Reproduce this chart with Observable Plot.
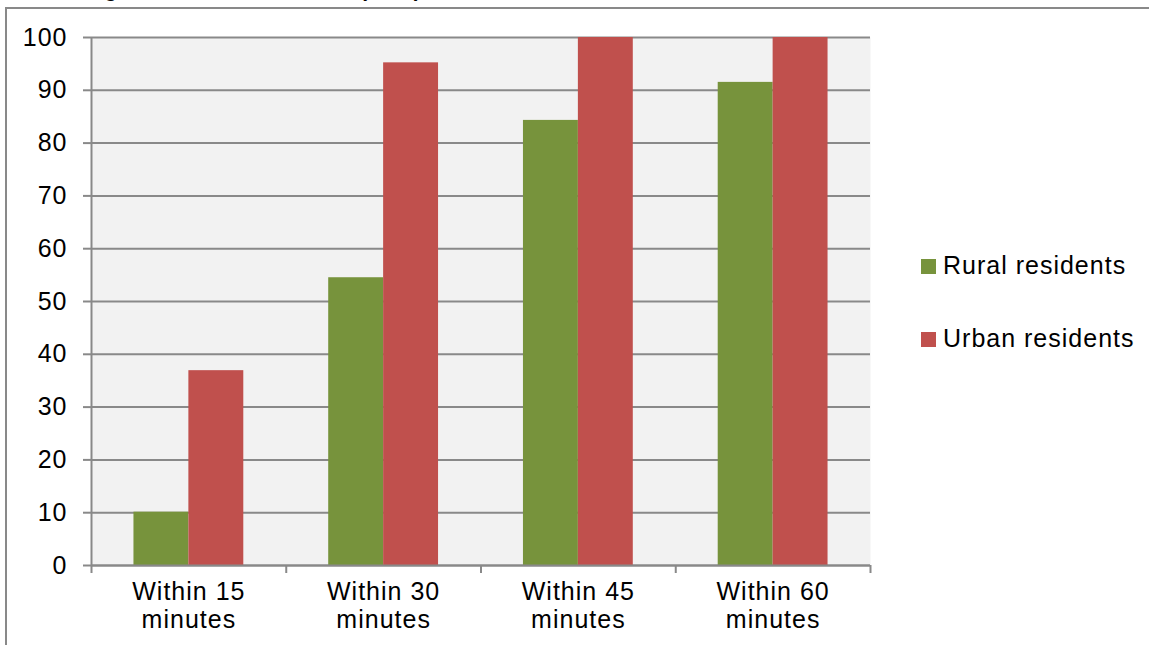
<!DOCTYPE html>
<html>
<head>
<meta charset="utf-8">
<script src="https://cdn.jsdelivr.net/npm/d3@7"></script>
<script src="https://cdn.jsdelivr.net/npm/@observablehq/plot@0.6"></script>
<style>
  html, body { margin: 0; padding: 0; background: #fff; overflow: hidden; }
  body { width: 1149px; height: 645px; position: relative; font-family: "Liberation Sans", Arial, sans-serif; }
  #frame { position: absolute; left: 5px; top: 7px; width: 1300px; height: 800px; border-left: 2px solid #898989; border-top: 2px solid #898989; }
  #title { position: absolute; left: 45px; top: -21px; font-size: 21px; line-height: 21px; font-weight: bold; white-space: nowrap; color: #000; }
  #chart { position: absolute; left: 0; top: 0; }
  #legend { position: absolute; left: 921px; top: 0; }
  .item { position: absolute; left: 0; white-space: nowrap; font-size: 25px; letter-spacing: 1px; line-height: 25px; color: #000; }
  .sw { display: inline-block; width: 15px; height: 15px; margin-right: 7px; vertical-align: 0px; }
</style>
</head>
<body>
<div id="frame"></div>
<div id="title">Driving time to a trauma center (2010)</div>
<div id="chart"></div>
<div id="legend"></div>
<script>
const categories = ["Within 15\nminutes", "Within 30\nminutes", "Within 45\nminutes", "Within 60\nminutes"];
const seriesNames = ["Rural residents", "Urban residents"];
const seriesColors = ["#77933c", "#c0504d"];
const rural = [10.1, 54.5, 84.3, 91.5];
const urban = [36.9, 95.2, 100, 100];
const yTicks = [0, 10, 20, 30, 40, 50, 60, 70, 80, 90, 100];

const rows = [];
categories.forEach((c, i) => {
  rows.push({i, series: seriesNames[0], s: 0, value: rural[i]});
  rows.push({i, series: seriesNames[1], s: 1, value: urban[i]});
});

const groupPad = 0.218;   // gap on each side of a cluster (fraction of category)
const barFrac = 0.282;    // bar width (fraction of category)
const grid = "#898989";

const chart = Plot.plot({
  width: 1149,
  height: 645,
  marginLeft: 91,
  marginRight: 279,
  marginTop: 37,
  marginBottom: 80,
  style: {fontFamily: '"Liberation Sans", Arial, sans-serif', background: "transparent", overflow: "visible"},
  x: {type: "linear", domain: [0, categories.length], label: null},
  y: {domain: [0, 100], label: null},
  color: {domain: seriesNames, range: seriesColors},
  marks: [
    Plot.frame({fill: "#f2f2f2", stroke: null}),
    Plot.gridY(yTicks, {stroke: grid, strokeOpacity: 1, strokeWidth: 2}),
    Plot.rectY(rows, {
      x1: d => d.i + groupPad + d.s * barFrac,
      x2: d => d.i + groupPad + (d.s + 1) * barFrac,
      y1: 0,
      y2: "value",
      fill: "series"
    }),
    Plot.ruleX([0], {stroke: grid, strokeWidth: 2}),
    Plot.ruleY([0], {stroke: grid, strokeWidth: 2}),
    Plot.axisY(yTicks, {label: null, tickSize: 8, tickPadding: 16, stroke: grid, strokeWidth: 2, fill: "#000", fontSize: 25, tickFormat: d => String(d)}),
    Plot.axisX(d3.range(categories.length + 1), {label: null, tickSize: 8, stroke: grid, strokeWidth: 2, tickFormat: () => ""}),
    Plot.axisX(categories.map((_, i) => i + 0.5), {label: null, tickSize: 0, tickPadding: 14, fill: "#000", fontSize: 25, lineHeight: 1.13, tickFormat: t => categories[Math.round(t - 0.5)]})
  ]
});
document.getElementById("chart").appendChild(chart);
chart.querySelectorAll("text").forEach(t => t.style.letterSpacing = "1px");

const legend = document.getElementById("legend");
const legendTops = [253, 326];
seriesNames.forEach((name, k) => {
  const item = document.createElement("div");
  item.className = "item";
  item.style.top = legendTops[k] + "px";
  const sw = document.createElement("span");
  sw.className = "sw";
  sw.style.background = seriesColors[k];
  item.appendChild(sw);
  item.appendChild(document.createTextNode(name));
  legend.appendChild(item);
});
</script>
</body>
</html>
